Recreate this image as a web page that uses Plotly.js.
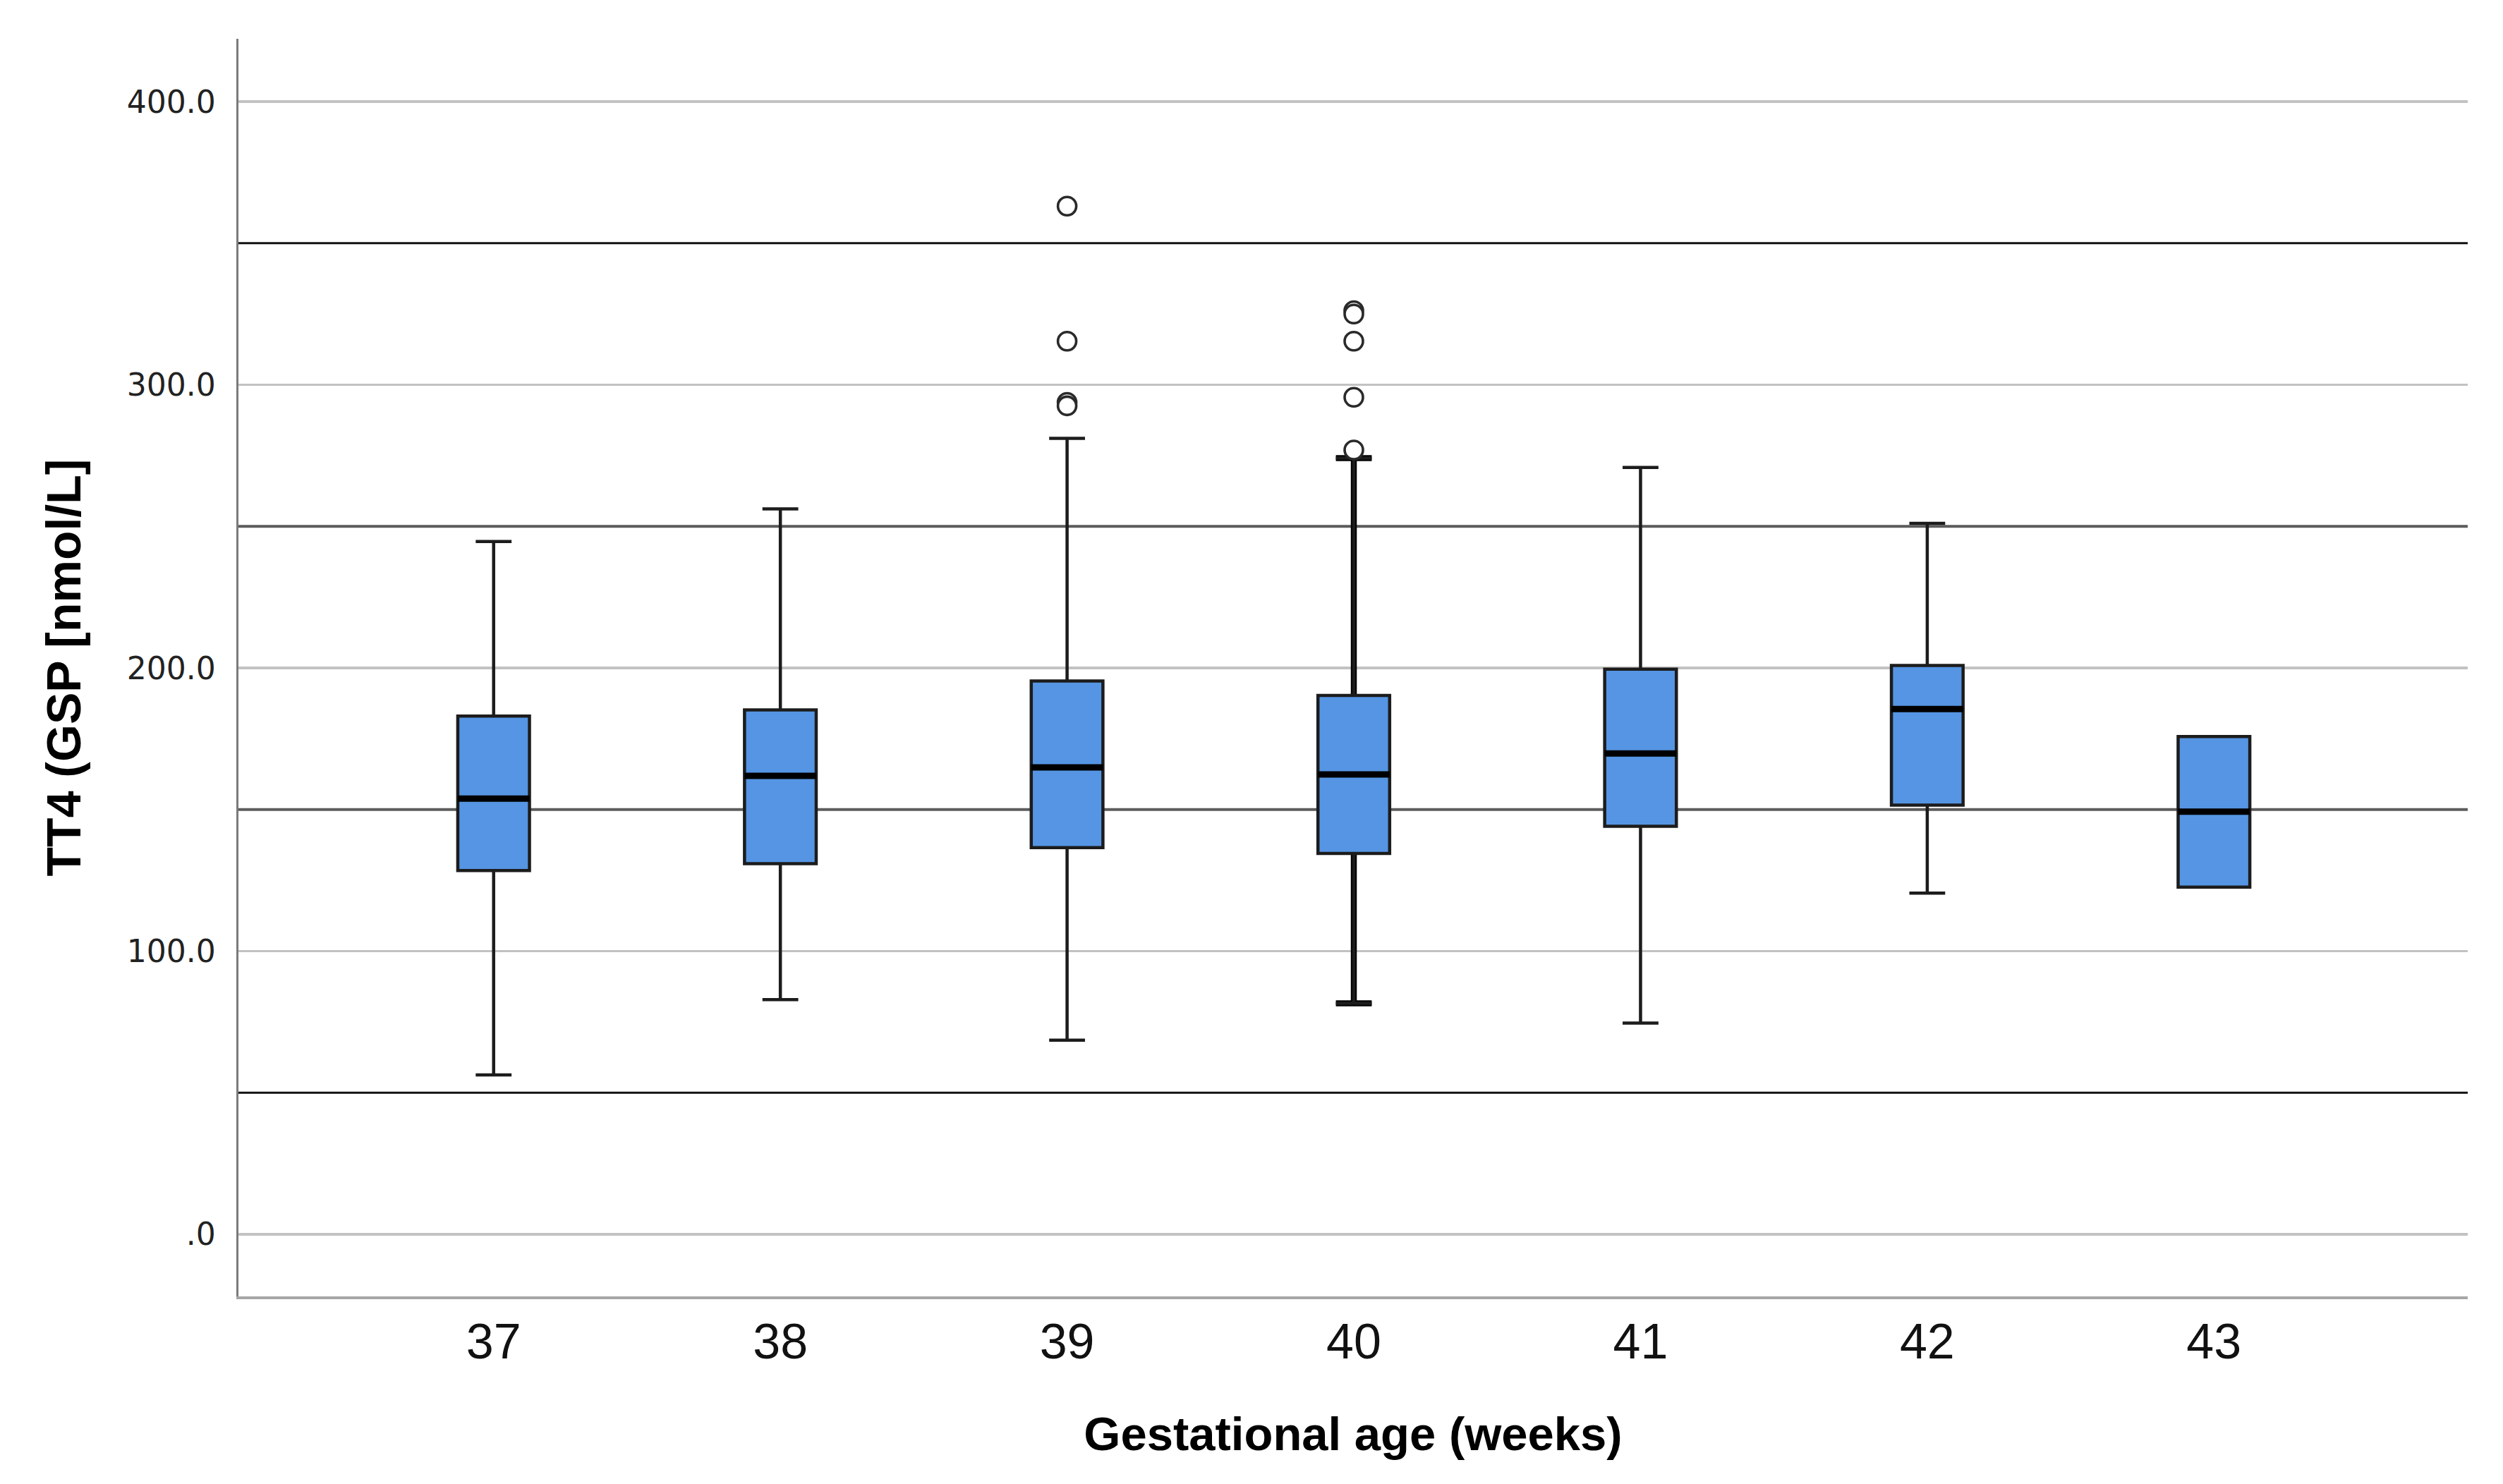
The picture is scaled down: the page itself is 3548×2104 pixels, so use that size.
<!DOCTYPE html>
<html>
<head>
<meta charset="utf-8">
<script src="https://cdn.plot.ly/plotly-3.0.1.min.js"></script>
<style>html,body{margin:0;padding:0;background:#fff;}#chart{width:3548px;height:2104px;}</style>
</head>
<body>
<div id="chart"></div>
<script>
// ---- data ----
const weeks        = [37, 38, 39, 40, 41, 42, 43];
const weekLabels   = ['37', '38', '39', '40', '41', '42', '43'];
const lowerWhisker = [56.3, 82.9, 68.6, 81.6, 74.6, 120.5, 122.6];
const q1           = [128.5, 130.9, 136.6, 134.5, 144.1, 151.6, 122.6];
const medians      = [153.9, 161.9, 164.9, 162.4, 169.8, 185.5, 149.3];
const q3           = [183.0, 185.2, 195.4, 190.3, 199.6, 200.9, 175.8];
const upperWhisker = [244.7, 256.2, 281.1, 274.1, 270.8, 251.1, 175.8];

const outlierWeek  = [39, 39, 39, 39, 40, 40, 40, 40, 40];
const outlierValue = [363.1, 315.4, 293.8, 292.6, 326.2, 325.0, 315.4, 295.6, 277.0];

const refLines     = [50, 150, 250, 350];
const yTickVals    = [0, 100, 200, 300, 400];
const yTickText    = ['.0', '100.0', '200.0', '300.0', '400.0'];

// ---- styles ----
const refColors = ['#111111', '#5c5c5c', '#5c5c5c', '#111111'];
const refWidths = [3, 4, 4, 3];
const boxFill = '#5595e3';
const BOXW = 0.25;

// thick whiskers for week 40: a zero-height box at the median (hidden under the
// main box) whose whiskers run out to the fences
const i40 = weeks.indexOf(40);
const thick40 = {
  type: 'box', x: [weeks[i40]], q1: [medians[i40]], median: [medians[i40]], q3: [medians[i40]],
  lowerfence: [lowerWhisker[i40]], upperfence: [upperWhisker[i40]],
  width: 0.18, whiskerwidth: 0.5 * BOXW / 0.18,
  fillcolor: boxFill, line: {color: '#000', width: 8.5},
  boxpoints: false, hoverinfo: 'skip', showlegend: false
};

const mainBoxes = {
  type: 'box', x: weeks, q1: q1, median: medians, q3: q3,
  lowerfence: lowerWhisker, upperfence: upperWhisker,
  width: BOXW, whiskerwidth: 0.5,
  fillcolor: boxFill, line: {color: '#1c1c1c', width: 4.5},
  boxpoints: false, showlegend: false
};

// thick median bars: zero-height boxes at the median
const medianBars = {
  type: 'box', x: weeks, q1: medians, median: medians, q3: medians,
  lowerfence: medians, upperfence: medians,
  width: BOXW, whiskerwidth: 0,
  fillcolor: 'rgba(0,0,0,0)', line: {color: '#000', width: 9},
  boxpoints: false, hoverinfo: 'skip', showlegend: false
};

const outliers = {
  type: 'scatter', mode: 'markers', x: outlierWeek, y: outlierValue,
  marker: {symbol: 'circle', size: 26, color: '#ffffff', line: {color: '#2a2a2a', width: 3.6}},
  showlegend: false
};

const shapes = refLines.map((v, i) => ({
  type: 'line', xref: 'paper', x0: 0, x1: 1, yref: 'y', y0: v, y1: v,
  line: {color: refColors[i], width: refWidths[i]}, layer: 'below'
}));

const layout = {
  width: 3548, height: 2104,
  margin: {l: 338, r: 50, t: 55, b: 266, pad: 0},
  paper_bgcolor: '#ffffff', plot_bgcolor: '#ffffff',
  showlegend: false, boxmode: 'overlay',
  xaxis: {
    range: [36.11, 43.885], tickmode: 'array', tickvals: weeks, ticktext: weekLabels,
    showgrid: false, zeroline: false,
    showline: true, linecolor: '#a6a6a6', linewidth: 4,
    ticks: '',
    tickfont: {family: 'Liberation Sans, Arial, sans-serif', size: 70, color: '#111'},
    title: {text: 'Gestational age (weeks)', standoff: 70,
            font: {family: 'Liberation Sans, Arial, sans-serif', size: 67, color: '#000', weight: 'bold'}}
  },
  yaxis: {
    range: [-21.9, 422.2], tickmode: 'array', tickvals: yTickVals, ticktext: yTickText,
    showgrid: true, gridcolor: '#c2c2c2', gridwidth: 3.5, zeroline: false,
    showline: true, linecolor: '#7a7a7a', linewidth: 3.5,
    ticks: 'outside', ticklen: 20, tickcolor: 'rgba(0,0,0,0)',
    tickfont: {family: 'DejaVu Sans, sans-serif', size: 44, color: '#222'},
    title: {text: 'TT4 (GSP [nmol/L]', standoff: 44,
            font: {family: 'Liberation Sans, Arial, sans-serif', size: 68, color: '#000', weight: 'bold'}}
  },
  shapes: shapes
};

Plotly.newPlot('chart', [thick40, mainBoxes, medianBars, outliers], layout, {staticPlot: true, displayModeBar: false});
</script>
</body>
</html>
